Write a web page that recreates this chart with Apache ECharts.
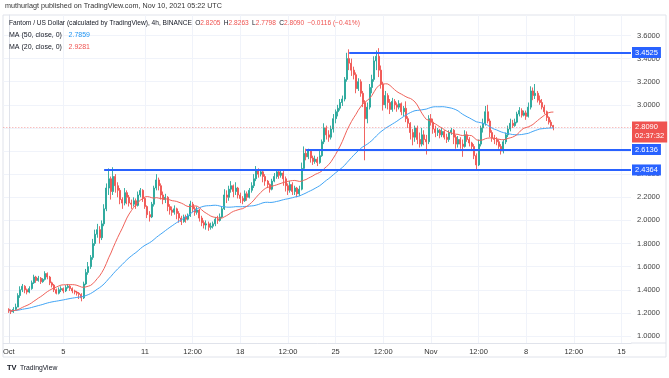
<!DOCTYPE html>
<html>
<head>
<meta charset="utf-8">
<script src="https://cdn.jsdelivr.net/npm/echarts@6.0.0/dist/echarts.min.js"></script>
<style>
html,body{margin:0;padding:0;background:#fff;}
#chart{width:669px;height:378px;}
</style>
</head>
<body>
<div id="chart"></div>
<script>
// FTM/USD 4h candles, index 0 = Oct 1 00:00 ... 240 = Nov 10 04:00
const startOpen = 1.23;
const closes = [
  1.22,1.21,1.23,1.25,1.35,1.40, 1.43,1.40,1.38,1.41,1.46,1.51, 1.48,1.50,1.47,1.49,1.54,1.51,
  1.46,1.44,1.40,1.37,1.40,1.41, 1.39,1.42,1.43,1.41,1.39,1.38, 1.37,1.36,1.33,1.45,1.55,1.60,
  1.68,1.80,1.88,1.92,1.85,1.97, 2.10,2.28,2.36,2.25,2.38,2.30, 2.26,2.18,2.15,2.24,2.20,2.15,
  2.14,2.17,2.13,2.22,2.26,2.19, 2.12,2.05,2.03,2.14,2.28,2.35, 2.30,2.22,2.18,2.20,2.12,2.09,
  2.07,2.10,2.06,2.02,1.99,2.03, 2.01,2.04,2.14,2.10,2.07,2.09, 2.02,1.98,1.96,1.97,1.94,1.95,
  1.97,2.01,2.00,2.03,2.10,2.22, 2.20,2.27,2.30,2.25,2.28,2.22, 2.19,2.17,2.23,2.20,2.26,2.30,
  2.36,2.43,2.40,2.42,2.38,2.34, 2.31,2.27,2.34,2.38,2.42,2.39, 2.41,2.36,2.30,2.26,2.31,2.25,
  2.28,2.23,2.27,2.45,2.58,2.55, 2.60,2.54,2.51,2.53,2.50,2.56, 2.68,2.80,2.74,2.72,2.79,2.88,
  2.94,2.97,3.02,3.05,3.22,3.40, 3.36,3.30,3.26,3.14,3.20,3.10, 3.02,2.88,2.98,3.15,3.22,3.38,
  3.42,3.30,3.18,3.00,3.08,3.02, 2.96,3.03,3.00,2.98,3.01,2.94, 2.97,2.88,2.84,2.76,2.72,2.80,
  2.70,2.66,2.74,2.70,2.68,2.88, 2.85,2.79,2.76,2.78,2.74,2.77, 2.72,2.70,2.76,2.78,2.72,2.66,
  2.70,2.66,2.64,2.74,2.70,2.67, 2.64,2.56,2.48,2.66,2.80,2.84, 2.94,2.86,2.76,2.71,2.70,2.68,
  2.64,2.60,2.68,2.74,2.79,2.84, 2.82,2.85,2.92,2.95,2.91,2.93, 2.90,2.98,3.12,3.08,3.10,3.04,
  3.02,2.98,2.94,2.89,2.85,2.8205, 2.809
];
const highs = [
  1.24,1.23,1.25,1.28,1.37,1.43, 1.45,1.44,1.41,1.43,1.48,1.53, 1.52,1.52,1.51,1.50,1.56,1.55,
  1.52,1.47,1.45,1.41,1.42,1.43, 1.42,1.44,1.45,1.44,1.42,1.40, 1.39,1.38,1.37,1.47,1.58,1.64,
  1.70,1.84,1.92,1.97,1.95,2.00, 2.14,2.32,2.45,2.38,2.46,2.40, 2.33,2.28,2.20,2.28,2.26,2.22,
  2.18,2.20,2.19,2.25,2.28,2.27, 2.20,2.13,2.08,2.16,2.30,2.40, 2.37,2.32,2.25,2.23,2.21,2.14,
  2.12,2.13,2.11,2.08,2.04,2.05, 2.05,2.06,2.17,2.16,2.12,2.12, 2.10,2.04,2.00,2.00,1.99,1.98,
  1.99,2.03,2.04,2.06,2.12,2.27, 2.26,2.30,2.34,2.31,2.33,2.29, 2.24,2.21,2.26,2.25,2.28,2.33,
  2.40,2.47,2.45,2.44,2.43,2.40, 2.35,2.32,2.36,2.41,2.44,2.44, 2.43,2.44,2.38,2.32,2.34,2.33,
  2.30,2.29,2.30,2.50,2.64,2.62, 2.62,2.61,2.56,2.56,2.55,2.60, 2.70,2.84,2.82,2.78,2.82,2.92,
  2.96,3.00,3.05,3.08,3.24,3.45, 3.48,3.40,3.33,3.28,3.23,3.22, 3.12,3.04,3.02,3.18,3.26,3.42,
  3.47,3.49,3.34,3.20,3.12,3.10, 3.05,3.06,3.05,3.02,3.04,3.02, 2.99,3.03,2.90,2.85,2.79,2.82,
  2.82,2.76,2.80,2.78,2.74,2.91, 2.92,2.88,2.82,2.80,2.79,2.80, 2.78,2.75,2.78,2.80,2.79,2.74,
  2.73,2.72,2.70,2.78,2.77,2.72, 2.68,2.66,2.58,2.70,2.82,2.88, 2.99,3.00,2.88,2.78,2.74,2.72,
  2.70,2.66,2.70,2.76,2.82,2.88, 2.87,2.88,2.94,2.98,2.97,2.95, 2.95,3.02,3.16,3.15,3.18,3.12,
  3.08,3.05,3.00,2.95,2.90,2.87, 2.8263
];
const lows = [
  1.20,1.19,1.20,1.22,1.25,1.33, 1.38,1.37,1.36,1.37,1.40,1.45, 1.46,1.47,1.45,1.46,1.48,1.49,
  1.44,1.42,1.38,1.36,1.36,1.38, 1.37,1.38,1.41,1.39,1.37,1.36, 1.35,1.32,1.30,1.32,1.44,1.53,
  1.58,1.66,1.78,1.85,1.80,1.83, 1.95,2.08,2.22,2.18,2.22,2.24, 2.20,2.14,2.10,2.13,2.14,2.12,
  2.10,2.12,2.10,2.12,2.20,2.16, 2.10,2.02,1.99,2.02,2.12,2.26, 2.26,2.18,2.14,2.15,2.08,2.05,
  2.04,2.05,2.01,1.98,1.96,1.98, 1.98,2.00,2.03,2.07,2.04,2.05, 1.99,1.95,1.93,1.92,1.91,1.92,
  1.93,1.95,1.97,1.99,2.02,2.09, 2.15,2.17,2.24,2.20,2.22,2.19, 2.15,2.14,2.16,2.17,2.19,2.24,
  2.28,2.34,2.37,2.38,2.33,2.30, 2.28,2.24,2.26,2.33,2.36,2.36, 2.37,2.30,2.25,2.22,2.24,2.22,
  2.22,2.20,2.21,2.26,2.43,2.52, 2.53,2.50,2.48,2.49,2.47,2.49, 2.55,2.66,2.70,2.68,2.70,2.76,
  2.84,2.90,2.95,2.99,3.03,3.20, 3.30,3.25,3.22,3.10,3.12,3.07, 2.98,2.52,2.84,2.96,3.10,3.20,
  3.30,3.24,3.14,2.95,2.97,2.96, 2.92,2.94,2.96,2.94,2.96,2.91, 2.90,2.85,2.80,2.70,2.65,2.68,
  2.66,2.63,2.64,2.65,2.57,2.66, 2.82,2.75,2.72,2.73,2.71,2.72, 2.70,2.67,2.68,2.74,2.66,2.62,
  2.63,2.62,2.55,2.63,2.68,2.64, 2.60,2.53,2.43,2.47,2.64,2.76, 2.82,2.84,2.72,2.68,2.66,2.65,
  2.62,2.57,2.58,2.66,2.72,2.77, 2.80,2.81,2.84,2.90,2.89,2.90, 2.87,2.89,2.96,3.04,3.05,3.02,
  3.00,2.96,2.92,2.86,2.83,2.80, 2.7798
];
const maWarmup = 1.22; // price before Oct 1, used to fill the MA windows

const xTickPos = [0, 24, 60, 81, 102, 123, 144, 165, 186, 207, 228, 249, 270];
const xTickLabels = ['Oct', '5', '11', '12:00', '18', '12:00', '25', '12:00', 'Nov', '12:00', '8', '12:00', '15'];
const yTicks = [1.0, 1.2, 1.4, 1.6, 1.8, 2.0, 2.2, 2.4, 2.6, 2.8, 3.0, 3.2, 3.4, 3.6];

// horizontal rays drawn on the chart: price and candle they start from
const levelPrices = [3.4525, 2.6136, 2.4364];
const levelStart = [150, 131, 42];
const lastPrice = 2.809;
const countdown = '02:37:32';

const FONT = 'Liberation Sans';
const UP = '#26a69a', DOWN = '#ef5350', BLUE = '#2962ff';
const xMin = -2.42, xMax = 274.2;
const yMin = 0.9394, yMax = 3.777;

const candles = closes.map((c, i) => {
  const o = i ? closes[i - 1] : startOpen;
  return [i, o, c, Math.min(lows[i], o, c), Math.max(highs[i], o, c)];
});

function movingAvg(n) {
  return closes.map((c, i) => {
    let s = 0;
    for (let k = i - n + 1; k <= i; k++) s += k >= 0 ? closes[k] : maWarmup;
    return [i, s / n];
  });
}

const levelLines = levelPrices.map((p, i) => [
  {name: p.toFixed(4), coord: [levelStart[i], p]},
  {coord: [xMax, p]}
]);

const chart = echarts.init(document.getElementById('chart'));
chart.setOption({
  animation: false,
  backgroundColor: '#ffffff',
  textStyle: {fontFamily: FONT},
  grid: {left: 3, right: 38, top: 15, bottom: 35},
  xAxis: {
    type: 'value',
    min: xMin,
    max: xMax,
    axisLine: {lineStyle: {color: '#e0e3eb'}},
    axisTick: {show: false, customValues: xTickPos},
    axisLabel: {
      customValues: xTickPos,
      formatter: v => xTickLabels[xTickPos.indexOf(v)],
      color: '#333',
      fontSize: 7.5,
      margin: 5
    },
    splitLine: {show: true, lineStyle: {color: '#f0f3fa'}}
  },
  yAxis: {
    type: 'value',
    position: 'right',
    min: yMin,
    max: yMax,
    axisLine: {show: true, lineStyle: {color: '#e0e3eb'}},
    axisTick: {show: false, customValues: yTicks},
    axisLabel: {
      customValues: yTicks,
      formatter: v => v.toFixed(4),
      color: '#444',
      fontSize: 7.5,
      margin: 6
    },
    splitLine: {show: true, lineStyle: {color: '#f0f3fa'}}
  },
  series: [
    {
      type: 'candlestick',
      data: candles,
      encode: {x: 0, y: [1, 2, 3, 4]},
      barWidth: 1.5,
      itemStyle: {
        color: UP, color0: DOWN,
        borderColor: UP, borderColor0: DOWN,
        borderWidth: 0.9
      },
      markLine: {
        silent: true,
        symbol: 'none',
        z: 10,
        data: [
          ...levelLines,
          [
            {name: lastPrice.toFixed(4) + '\n' + countdown, coord: [xMin, lastPrice],
             lineStyle: {color: 'rgba(239,83,80,0.55)', type: [1, 2], width: 1},
             label: {backgroundColor: '#ef5350', lineHeight: 9, padding: [2, 3, 1, 3], offset: [0, 5]}},
            {coord: [xMax, lastPrice]}
          ]
        ],
        lineStyle: {color: BLUE, width: 2, type: 'solid'},
        label: {
          show: true,
          position: 'end',
          formatter: '{b}',
          distance: 1,
          color: '#fff',
          backgroundColor: BLUE,
          fontSize: 7.5,
          fontFamily: FONT,
          padding: [2, 3, 1, 3]
        }
      }
    },
    {
      type: 'line',
      name: 'MA50',
      data: movingAvg(50),
      showSymbol: false,
      z: 3,
      lineStyle: {color: '#42a5f5', width: 1}
    },
    {
      type: 'line',
      name: 'MA20',
      data: movingAvg(20),
      showSymbol: false,
      z: 3,
      lineStyle: {color: '#f0625a', width: 1}
    }
  ],
  graphic: [
    // pane frame
    {type: 'rect', z: -10, shape: {x: 3, y: 15, width: 663, height: 342}, style: {fill: null, stroke: '#e0e3eb', lineWidth: 1}, silent: true},
    {type: 'line', z: -10, shape: {x1: 631, y1: 343, x2: 666, y2: 343}, style: {stroke: '#e0e3eb'}, silent: true},
    {type: 'text', z: 100, left: 5, top: 3,
     style: {text: 'muthurlagt published on TradingView.com, Nov 10, 2021 05:22 UTC', fill: '#333', font: '7.2px ' + FONT}},
    {type: 'text', z: 100, left: 9, top: 17,
     style: {
       text: '{t|Fantom / US Dollar (calculated by TradingView), 4h, BINANCE} {t|O}{r|2.8205} {t|H}{r|2.8263} {t|L}{r|2.7798} {t|C}{r|2.8090} {r|\u22120.0116 (\u22120.41%)}',
       rich: {
         t: {fill: '#131722', font: '6.6px ' + FONT},
         r: {fill: '#ef5350', font: '6.6px ' + FONT}
       }
     }},
    {type: 'text', z: 100, left: 9, top: 29,
     style: {text: '{t|MA (50, close, 0)}  {b|2.7859}',
       rich: {t: {fill: '#131722', font: '7px ' + FONT}, b: {fill: '#2196f3', font: '7px ' + FONT}}}},
    {type: 'text', z: 100, left: 9, top: 41,
     style: {text: '{t|MA (20, close, 0)}  {r|2.9281}',
       rich: {t: {fill: '#131722', font: '7px ' + FONT}, r: {fill: '#ef5350', font: '7px ' + FONT}}}},
    {type: 'text', z: 100, left: 7, top: 362,
     style: {text: '{l|TV} {t|TradingView}',
       rich: {l: {fill: '#131722', font: 'bold 7.5px ' + FONT}, t: {fill: '#131722', font: '6.8px ' + FONT}}}}
  ]
});
</script>
</body>
</html>
